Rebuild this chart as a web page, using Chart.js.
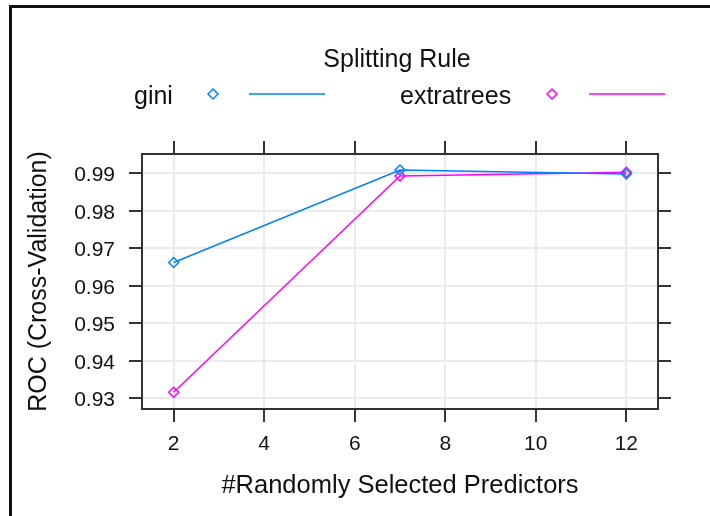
<!DOCTYPE html>
<html>
<head>
<meta charset="utf-8">
<script src="https://cdn.jsdelivr.net/npm/chart.js@4"></script>
<style>
  body { margin: 0; background: #fff; overflow: hidden; }
  #wrap { position: relative; width: 710px; height: 516px; }
  #frame { position: absolute; left: 9px; top: 5px; width: 800px; height: 600px;
           border-top: 3px solid #111; border-left: 3px solid #111; }
  #roc { position: absolute; left: 0; top: 0; }
</style>
</head>
<body>
<div id="wrap">
  <div id="frame"></div>
  <canvas id="roc" width="710" height="516"></canvas>
</div>
<script>
    // du lieu doc tu hinh
    const predictors = [2, 7, 12];
    const giniRoc = [0.9662, 0.9909, 0.9898];
    const extratreesRoc = [0.9316, 0.9893, 0.9903];
    const xTicks = [2, 4, 6, 8, 10, 12];
    const yTicks = [0.93, 0.94, 0.95, 0.96, 0.97, 0.98, 0.99];
    const seriesNames = ['gini', 'extratrees'];
    const seriesColors = ['#0080ff', '#ff00ff'];

    const textColor = '#111';
    const axisColor = '#333';
    const gridColor = '#ebebeb';

    Chart.defaults.font.family = '"Liberation Sans", Arial, sans-serif';
    Chart.defaults.color = textColor;

    // legend kieu lattice: chu, diem, duong
    const latticeLegend = {
        id: 'latticeLegend',
        afterDraw(chart) {
            const c = chart.ctx;
            c.save();
            c.font = '25px "Liberation Sans", Arial, sans-serif';
            c.fillStyle = textColor;
            c.textBaseline = 'alphabetic';
            c.textAlign = 'center';
            c.fillText('Splitting Rule', 397, 67);
            const items = [
                { textX: 134, pointX: 213, lineX: [249, 325] },
                { textX: 400, pointX: 552, lineX: [589, 665] }
            ];
            items.forEach((it, i) => {
                c.textAlign = 'left';
                c.fillStyle = textColor;
                c.fillText(seriesNames[i], it.textX, 104);
                c.strokeStyle = seriesColors[i];
                c.fillStyle = 'rgba(0,0,0,0)';
                c.lineWidth = 1.5;
                Chart.helpers.drawPoint(c, { pointStyle: 'rectRot', radius: 5, borderWidth: 1.5 }, it.pointX, 94);
                c.beginPath();
                c.moveTo(it.lineX[0], 94);
                c.lineTo(it.lineX[1], 94);
                c.stroke();
            });
            c.restore();
        }
    };

    function fixTicks(list) {
        return (axis) => { axis.ticks = list.map(v => ({ value: v })); };
    }

    const commonGrid = { color: gridColor, lineWidth: 2, tickLength: 13, tickColor: axisColor, tickWidth: 2 };
    const commonBorder = { color: axisColor, width: 2 };

    const ctx = document.getElementById('roc').getContext('2d');
    const chart = new Chart(ctx, {
        type: 'line',
        data: {
            datasets: [
                {
                    label: seriesNames[0],
                    data: predictors.map((x, i) => ({ x: x, y: giniRoc[i] })),
                    borderColor: seriesColors[0],
                    pointBorderColor: seriesColors[0],
                    pointBackgroundColor: 'rgba(0,0,0,0)'
                },
                {
                    label: seriesNames[1],
                    data: predictors.map((x, i) => ({ x: x, y: extratreesRoc[i] })),
                    borderColor: seriesColors[1],
                    pointBorderColor: seriesColors[1],
                    pointBackgroundColor: 'rgba(0,0,0,0)'
                }
            ]
        },
        options: {
            responsive: false,
            animation: false,
            devicePixelRatio: 1,
            layout: { padding: 0 },
            elements: {
                line: { borderWidth: 1.5, tension: 0 },
                point: { pointStyle: 'rectRot', radius: 5, borderWidth: 1.5 }
            },
            plugins: {
                legend: { display: false },
                tooltip: { enabled: false }
            },
            scales: {
                x: {
                    type: 'linear',
                    position: 'bottom',
                    min: 1.3,
                    max: 12.7,
                    afterBuildTicks: fixTicks(xTicks),
                    afterFit: (s) => { s.height = 107; },
                    grid: commonGrid,
                    border: commonBorder,
                    ticks: { font: { size: 21 }, padding: 10, maxRotation: 0, color: textColor },
                    title: {
                        display: true,
                        text: '#Randomly Selected Predictors',
                        font: { size: 25.5 },
                        color: textColor,
                        padding: { top: 0, bottom: 15 }
                    }
                },
                x2: {
                    type: 'linear',
                    position: 'top',
                    min: 1.3,
                    max: 12.7,
                    afterBuildTicks: fixTicks(xTicks),
                    afterFit: (s) => { s.height = 154; },
                    grid: Object.assign({}, commonGrid, { drawOnChartArea: false }),
                    border: commonBorder,
                    ticks: { display: false }
                },
                y: {
                    type: 'linear',
                    position: 'left',
                    min: 0.92715,
                    max: 0.99515,
                    afterBuildTicks: fixTicks(yTicks),
                    afterFit: (s) => { s.width = 142; },
                    grid: commonGrid,
                    border: commonBorder,
                    ticks: {
                        font: { size: 21 },
                        padding: 14,
                        labelOffset: 2,
                        color: textColor,
                        callback: (v) => v.toFixed(2)
                    },
                    title: {
                        display: true,
                        text: 'ROC (Cross-Validation)',
                        font: { size: 25 },
                        color: textColor,
                        padding: { top: 24, bottom: 0 }
                    }
                },
                y2: {
                    type: 'linear',
                    position: 'right',
                    min: 0.92715,
                    max: 0.99515,
                    afterBuildTicks: fixTicks(yTicks),
                    afterFit: (s) => { s.width = 52; },
                    grid: Object.assign({}, commonGrid, { drawOnChartArea: false }),
                    border: commonBorder,
                    ticks: { display: false }
                }
            }
        },
        plugins: [latticeLegend]
    });
</script>
</body>
</html>
